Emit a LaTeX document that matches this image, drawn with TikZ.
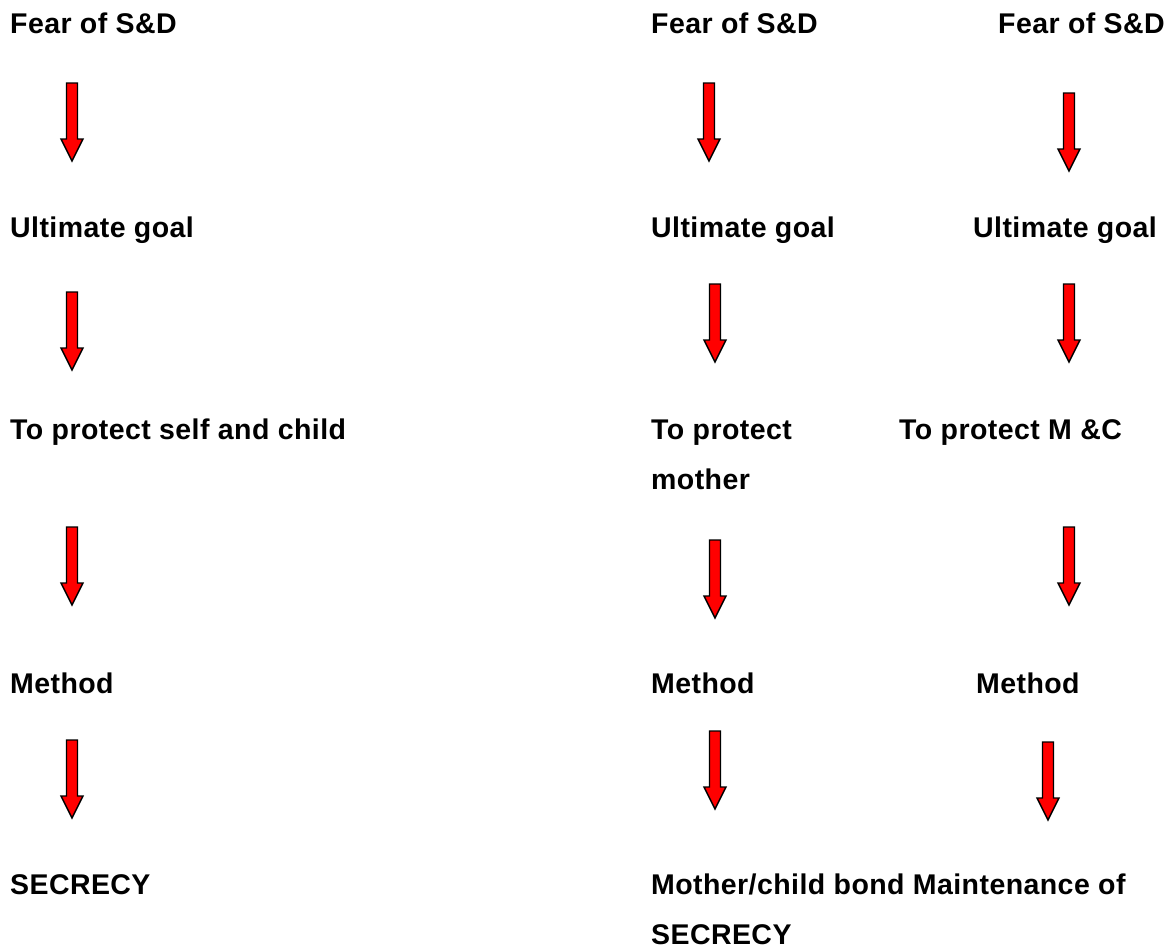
\documentclass[tikz,border=0pt]{standalone}
\usepackage{fontspec}
\setmainfont{Liberation Sans}[LetterSpace=1.5]
\begin{document}
\begin{tikzpicture}[x=1pt,y=-1pt,
  label/.style={anchor=base west, inner sep=0pt, align=left,
    font=\fontsize{28.5}{50}\selectfont\bfseries},
  downarrow/.pic={
    \draw[fill=red, line width=1.4pt, line join=miter]
      (-5.5,0) -- (5.5,0) -- (5.5,56) -- (11,56) -- (0,78)
      -- (-11,56) -- (-5.5,56) -- cycle;}]
\useasboundingbox[fill=white] (0,0) rectangle (1170,948);

% left column
\node[label] (a1) at (10,33)  {Fear of S\&D};
\node[label] (a2) at (10,237) {Ultimate goal};
\node[label] (a3) at (10,439) {To protect self and child};
\node[label] (a4) at (10,693) {Method};
\node[label] (a5) at (10,894) {SECRECY};
\pic at (72,83)  {downarrow};
\pic at (72,292) {downarrow};
\pic at (72,527) {downarrow};
\pic at (72,740) {downarrow};

% middle column (two-line labels are placed by their last baseline)
\node[label] (b1) at (651,33)  {Fear of S\&D};
\node[label] (b2) at (651,237) {Ultimate goal};
\node[label] (b3) at (651,489) {To protect\\mother};
\node[label] (b4) at (651,693) {Method};
\node[label] (b5) at (651,944) {Mother/child bond Maintenance of\\SECRECY};
\pic at (709,83)  {downarrow};
\pic at (715,284) {downarrow};
\pic at (715,540) {downarrow};
\pic at (715,731) {downarrow};

% right column
\node[label] (c1) at (998,33)  {Fear of S\&D};
\node[label] (c2) at (973,237) {Ultimate goal};
\node[label] (c3) at (899,439) {To protect M \&C};
\node[label] (c4) at (976,693) {Method};
\pic at (1069,93)  {downarrow};
\pic at (1069,284) {downarrow};
\pic at (1069,527) {downarrow};
\pic at (1048,742) {downarrow};
\end{tikzpicture}
\end{document}
